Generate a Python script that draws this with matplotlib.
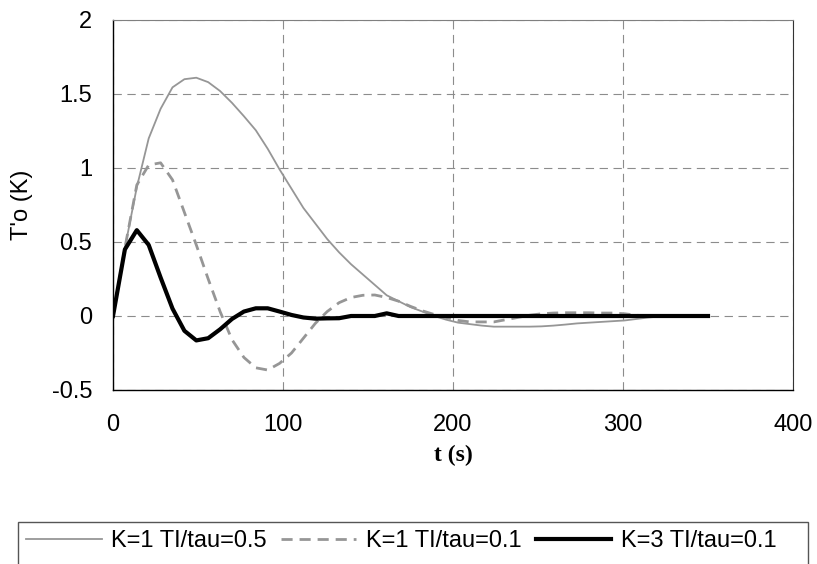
import numpy as np
import matplotlib
matplotlib.use("Agg")
import matplotlib.pyplot as plt
from matplotlib.patches import Rectangle

plt.rcParams['font.family'] = ['Liberation Sans', 'DejaVu Sans']
plt.rcParams['lines.scale_dashes'] = False

# time axis (s), sampled every 7 s
t = np.arange(0, 351, 7)

# K=1 TI/tau=0.5
k1_ti05 = [0, 0.46, 0.87, 1.20, 1.40, 1.545, 1.60, 1.61, 1.58, 1.52,
           1.44, 1.35, 1.255, 1.13, 0.99, 0.86, 0.73, 0.625, 0.52, 0.43,
           0.35, 0.28, 0.21, 0.14, 0.10, 0.06, 0.03, 0.0, -0.025, -0.045,
           -0.055, -0.065, -0.072, -0.072, -0.072, -0.072, -0.07, -0.065, -0.058, -0.05,
           -0.045, -0.04, -0.035, -0.03, -0.02, -0.01, -0.003, 0, 0, 0, 0]

# K=1 TI/tau=0.1
k1_ti01 = [0, 0.46, 0.885, 1.02, 1.035, 0.92, 0.70, 0.48, 0.25, 0.03,
           -0.16, -0.28, -0.35, -0.365, -0.32, -0.25, -0.15, -0.05, 0.03, 0.09,
           0.125, 0.14, 0.142, 0.125, 0.10, 0.065, 0.035, 0.01, -0.01, -0.03,
           -0.04, -0.04, -0.04, -0.025, -0.01, 0.005, 0.015, 0.02, 0.022, 0.022,
           0.022, 0.02, 0.02, 0.015, 0.005, 0, 0, 0, 0, 0, 0]

# K=3 TI/tau=0.1
k3_ti01 = [0, 0.45, 0.58, 0.48, 0.26, 0.05, -0.10, -0.165, -0.15, -0.09,
           -0.02, 0.03, 0.052, 0.052, 0.03, 0.007, -0.01, -0.018, -0.016, -0.015,
           0, 0, 0, 0.018, 0] + [0] * 26

labels = ['K=1 TI/tau=0.5', 'K=1 TI/tau=0.1', 'K=3 TI/tau=0.1']
xticks = [0, 100, 200, 300, 400]
yticks = [-0.5, 0, 0.5, 1, 1.5, 2]
ytick_labels = ['-0.5', '0', '0.5', '1', '1.5', '2']

W, H = 817, 564
fig = plt.figure(figsize=(W / 100, H / 100), dpi=100)
ax = fig.add_axes([113 / W, 1 - 390 / H, 680 / W, 370 / H])

l1, = ax.plot(t, k1_ti05, color='#969696', lw=1.3)
l2, = ax.plot(t, k1_ti01, color='#969696', lw=2.0, dashes=(8, 5))
l3, = ax.plot(t, k3_ti01, color='black', lw=3.0)

ax.set_xlim(0, 400)
ax.set_ylim(-0.5, 2)
ax.set_xticks(xticks)
ax.set_xticklabels([str(v) for v in xticks])
ax.set_yticks(yticks)
ax.set_yticklabels(ytick_labels)
ax.tick_params(length=0, labelsize=17)
ax.tick_params(axis='y', pad=15)
ax.tick_params(axis='x', pad=17)

ax.grid(True, color='#8c8c8c', lw=0.8, dashes=(6, 4))
ax.set_axisbelow(True)

for s in ['left', 'bottom']:
    ax.spines[s].set_color('black')
    ax.spines[s].set_linewidth(1.0)
ax.spines['top'].set_color('#808080')
ax.spines['right'].set_color('#333333')

ax.set_ylabel("T'o (K)", fontsize=17)
ax.yaxis.set_label_coords(-0.134, 0.5)
ax.yaxis.label.set_va('center')
ax.yaxis.label.set_rotation_mode('default')
ax.set_xlabel('t (s)', fontsize=17, family='Liberation Serif', fontweight='bold')
ax.xaxis.set_label_coords(0.5, -0.178)
ax.xaxis.label.set_va('center')

# legend box, cut by the bottom edge like the original
fig.patches.append(Rectangle((18 / W, -0.05), 790 / W, 0.05 + (564 - 522) / H,
                             transform=fig.transFigure, fill=False,
                             edgecolor='#555555', lw=1.0))
fig.legend([l1, l2, l3], labels, loc='center left', ncol=3,
           bbox_to_anchor=(26 / W, 1 - 541 / H), frameon=False, fontsize=17,
           handlelength=3.2, handletextpad=0.4, columnspacing=0.6,
           borderpad=0, borderaxespad=0)

fig.savefig('out.png', dpi=100)
